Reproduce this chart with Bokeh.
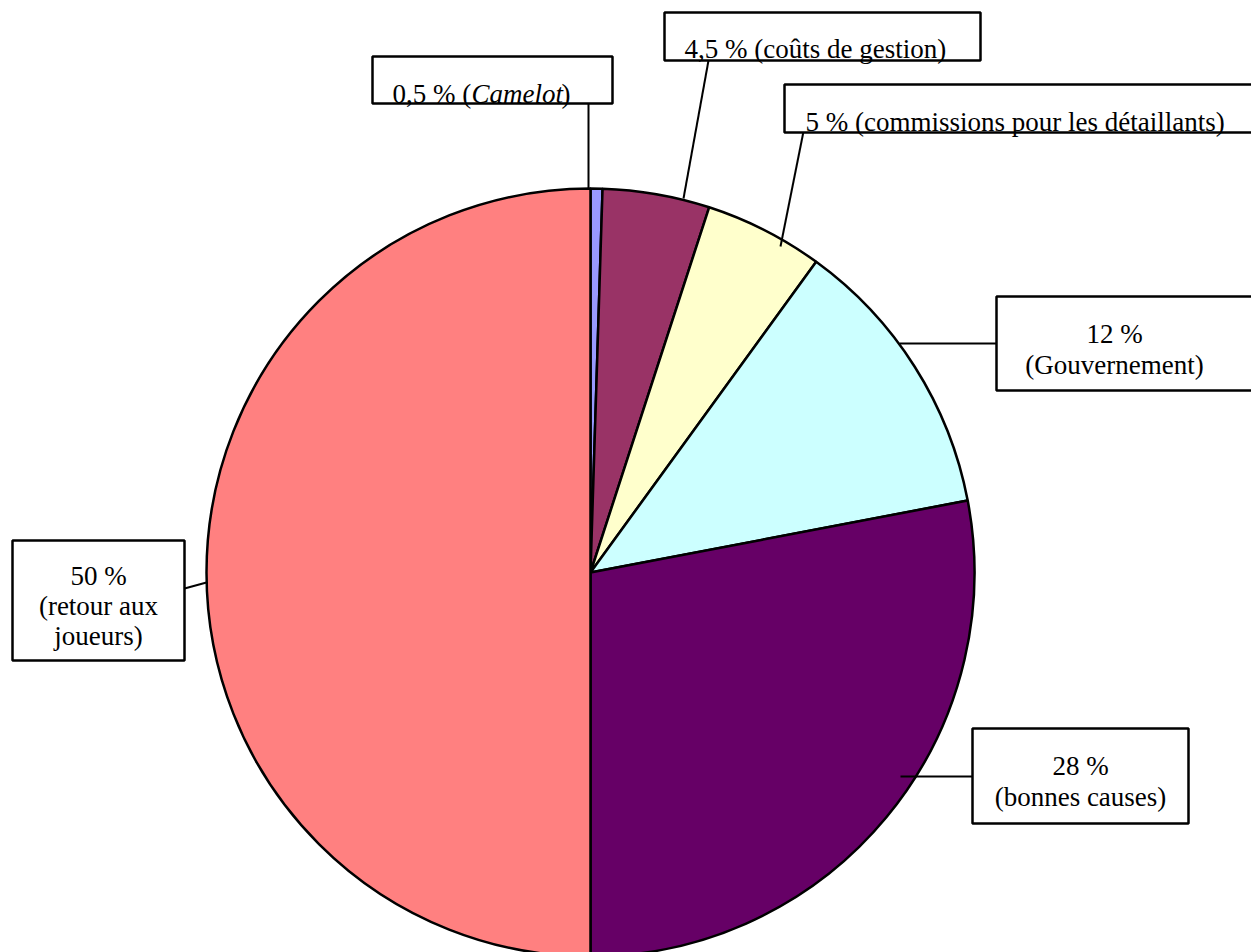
import numpy as np
from bokeh.plotting import figure
from bokeh.models import Range1d
from bokeh.core.properties import value
from bokeh.embed import file_html
from bokeh.resources import INLINE

# ---- data ----
categories = ["Camelot", "coûts de gestion", "commissions pour les détaillants",
              "Gouvernement", "bonnes causes", "retour aux joueurs"]
shares = [0.5, 4.5, 5, 12, 28, 50]
colors = ["#9999FF", "#993366", "#FFFFCC", "#CCFFFF", "#660066", "#FF8080"]
pct_labels = ["0,5 %", "4,5 %", "5 %", "12 %", "28 %", "50 %"]

# ---- layout (pixel coordinates, y measured from top) ----
W, H = 1251, 952
cx, cy, R = 590, 572, 384


def Y(py):
    return H - py


p = figure(width=W, height=H, x_range=Range1d(0, W), y_range=Range1d(0, H),
           output_backend="svg", toolbar_location=None, min_border=0)
p.axis.visible = False
p.grid.visible = False
p.outline_line_color = None
p.background_fill_color = "white"
p.border_fill_color = "white"

frac = np.array(shares, dtype=float) / sum(shares)
cum = np.concatenate([[0.0], np.cumsum(frac)])
starts = np.pi / 2 - cum[1:] * 2 * np.pi
ends = np.pi / 2 - cum[:-1] * 2 * np.pi
p.wedge(x=cx, y=Y(cy), radius=R, start_angle=starts, end_angle=ends,
        direction="anticlock", fill_color=colors, line_color="black", line_width=2.5)

# leader lines: (x0, y0) on box, (x1, y1) on pie
leaders = [
    (588, 103, 588, 189),
    (708, 60, 683, 198),
    (803, 131, 780, 246),
    (996, 343, 899, 343),
    (972, 776, 900, 776),
    (184, 588, 206, 582),
]
p.segment(x0=[l[0] for l in leaders], y0=[Y(l[1]) for l in leaders],
          x1=[l[2] for l in leaders], y1=[Y(l[3]) for l in leaders],
          line_color="black", line_width=2)

# label boxes: left, right, top, bottom
boxes = [
    (372, 612, 56, 103),
    (664, 980, 12, 60),
    (784, 1262, 84, 132),
    (996, 1262, 296, 390),
    (972, 1188, 728, 823),
    (12, 184, 540, 660),
]
p.quad(left=[b[0] for b in boxes], right=[b[1] for b in boxes],
       top=[Y(b[2]) for b in boxes], bottom=[Y(b[3]) for b in boxes],
       fill_color="white", line_color="black", line_width=2.5)

font = value("Liberation Serif")
fs = "27px"

def txt(x, y, s, align="left", style="normal"):
    p.text(x=[x], y=[Y(y)], text=[s], text_font=font, text_font_size=fs,
           text_align=align, text_baseline="alphabetic", text_color="black",
           text_font_style=style)

# single-line labels
txt(392, 93, pct_labels[0] + " (")
txt(471, 93, categories[0], style="italic")
txt(561, 93, ")")
txt(684, 48, pct_labels[1] + " (" + categories[1] + ")")
txt(805, 121, pct_labels[2] + " (" + categories[2] + ")")

# multi-line labels
txt(1114, 333, pct_labels[3], align="center")
txt(1114, 364, "(" + categories[3] + ")", align="center")
txt(1080, 765, pct_labels[4], align="center")
txt(1080, 796, "(" + categories[4] + ")", align="center")
txt(98, 575, pct_labels[5], align="center")
txt(98, 605, "(retour aux", align="center")
txt(98, 635, "joueurs)", align="center")

open("out.html", "w").write(file_html(p, INLINE))
